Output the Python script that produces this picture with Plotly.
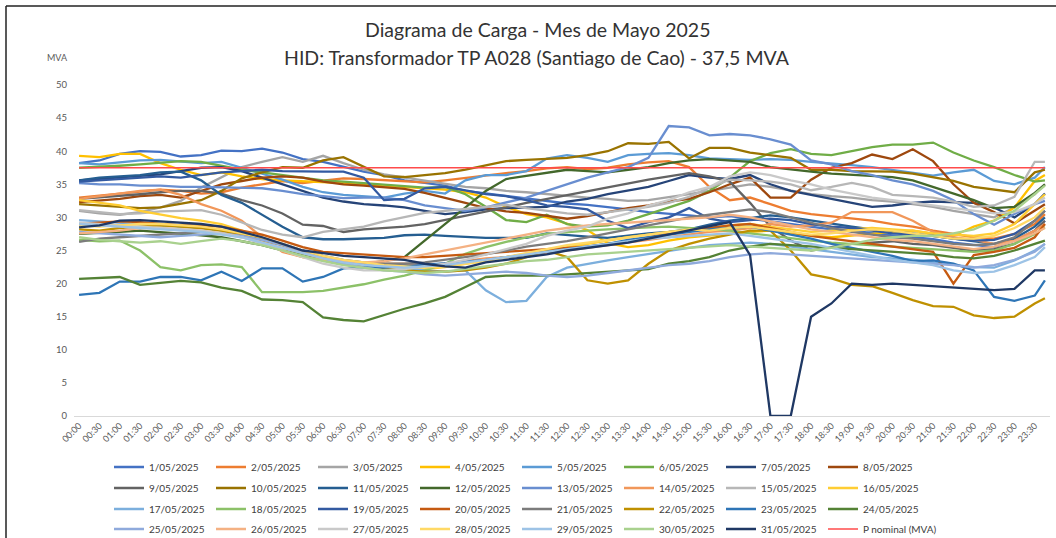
import plotly.graph_objects as go

# ---------------- data ----------------
tick_labels = ["00:00", "00:30", "01:00", "01:30", "02:00", "02:30", "03:00", "03:30",
               "04:00", "04:30", "05:00", "05:30", "06:00", "06:30", "07:00", "07:30",
               "08:00", "08:30", "09:00", "09:30", "10:00", "10:30", "11:00", "11:30",
               "12:00", "12:30", "13:00", "13:30", "14:00", "14:30", "15:00", "15:30",
               "16:00", "16:30", "17:00", "17:30", "18:00", "18:30", "19:00", "19:30",
               "20:00", "20:30", "21:00", "21:30", "22:00", "22:30", "23:00", "23:30"]
sample_times = tick_labels + ["23:45"]

d01 = [38.2, 38.6, 39.6, 40.0, 39.9, 39.2, 39.4, 40.1, 40.0, 40.4, 39.8, 38.8, 38.4, 37.6, 36.9, 36.4, 35.6, 35.2, 34.8, 34.0, 33.6, 33.2, 32.9, 32.4, 32.1, 31.9, 31.6, 31.2, 30.8, 30.6, 30.3, 30.0, 30.2, 29.8, 29.4, 29.0, 28.6, 28.2, 28.0, 27.6, 27.3, 27.0, 26.7, 26.2, 25.8, 25.5, 26.5, 28.0, 29.5]
d02 = [33.0, 33.3, 33.6, 34.0, 34.2, 34.0, 33.6, 33.8, 34.5, 35.0, 35.5, 35.2, 35.6, 35.9, 35.8, 35.6, 35.4, 35.3, 35.6, 36.0, 36.3, 36.7, 37.0, 37.4, 37.6, 37.3, 37.5, 38.0, 38.3, 38.5, 37.6, 34.6, 32.6, 33.0, 32.0, 31.0, 30.5, 30.2, 29.8, 29.5, 29.0, 28.6, 28.0, 27.5, 27.0, 26.8, 27.5, 29.0, 30.5]
d03 = [31.0, 30.6, 30.4, 30.8, 31.5, 32.5, 34.5, 36.0, 37.6, 38.4, 39.1, 38.4, 39.3, 38.2, 37.2, 36.5, 36.0, 35.5, 35.0, 34.6, 34.4, 34.0, 33.8, 33.5, 33.2, 33.0, 32.8, 32.5, 32.6, 33.0, 33.5, 34.0, 34.5, 35.0, 34.6, 34.0, 33.5, 33.2, 33.0, 32.6, 32.4, 32.0, 31.6, 31.0, 30.5, 30.0, 31.5, 33.5, 35.0]
d04 = [39.3, 39.1, 39.6, 39.6, 38.2, 37.2, 36.4, 36.8, 36.2, 35.8, 35.6, 35.5, 35.4, 35.2, 35.0, 34.8, 34.6, 34.4, 34.2, 33.8, 33.0, 31.6, 30.5, 30.0, 29.0, 28.1, 26.1, 25.5, 25.8, 26.5, 27.0, 27.3, 27.6, 27.8, 28.0, 27.6, 27.2, 27.0, 27.2, 27.5, 27.8, 28.0, 27.5, 27.2, 28.6, 29.5, 31.5, 35.5, 36.4]
d05 = [38.2, 38.0, 38.3, 38.6, 38.7, 38.4, 38.2, 38.4, 37.5, 36.5, 35.7, 34.6, 33.8, 33.4, 33.2, 33.0, 33.6, 34.0, 33.6, 35.6, 36.4, 36.4, 37.0, 38.9, 39.4, 39.0, 38.4, 39.4, 39.6, 39.7, 39.4, 38.9, 38.8, 38.7, 38.8, 38.7, 38.4, 38.2, 37.9, 37.6, 37.2, 36.8, 36.3, 36.8, 37.2, 35.5, 35.0, 36.0, 37.6]
d06 = [37.5, 37.6, 37.8, 38.0, 38.3, 38.5, 38.4, 37.8, 37.2, 36.8, 36.4, 36.0, 35.6, 35.4, 35.2, 35.0, 34.8, 34.5, 34.6, 33.5, 31.6, 29.6, 29.3, 30.4, 29.0, 28.6, 28.8, 29.5, 30.5, 31.5, 32.5, 34.0, 36.0, 38.5, 39.7, 40.3, 39.6, 39.4, 40.0, 40.6, 41.0, 41.0, 41.3, 39.8, 38.6, 37.6, 36.4, 35.4, 35.6]
d07 = [35.6, 35.8, 36.0, 36.2, 36.5, 37.0, 37.5, 37.6, 37.0, 36.0, 35.0, 34.0, 33.0, 32.4, 32.0, 31.8, 31.5, 31.0, 30.5, 30.8, 31.2, 31.4, 31.5, 31.6, 32.4, 32.8, 33.5, 34.0, 34.6, 35.5, 36.4, 36.0, 35.8, 36.4, 35.0, 34.0, 33.4, 32.8, 32.2, 31.6, 31.8, 32.2, 32.4, 32.3, 32.2, 31.5, 30.0, 32.0, 33.6]
d08 = [32.3, 32.5, 32.8, 33.2, 33.4, 33.0, 34.0, 35.0, 35.5, 36.0, 36.2, 36.0, 35.4, 35.0, 34.8, 34.5, 34.3, 33.7, 33.0, 32.2, 31.4, 30.9, 30.7, 30.2, 29.8, 30.2, 30.8, 31.4, 31.8, 32.4, 32.8, 33.8, 35.0, 36.0, 33.0, 33.0, 35.7, 37.5, 38.2, 39.5, 38.8, 40.3, 38.5, 35.0, 32.2, 30.8, 29.1, 31.0, 32.0]
d09 = [32.8, 33.0, 33.2, 33.5, 33.8, 34.0, 34.0, 33.6, 32.6, 31.8, 30.6, 28.9, 28.7, 27.8, 28.2, 28.4, 28.6, 29.0, 29.6, 30.2, 30.8, 31.5, 32.2, 32.8, 33.4, 34.0, 34.6, 35.2, 35.7, 36.2, 36.7, 36.2, 35.4, 32.2, 28.6, 26.5, 25.0, 25.5, 26.0, 26.2, 26.4, 26.0, 25.8, 25.4, 25.0, 25.2, 26.0, 28.0, 29.5]
d10 = [32.0, 31.8, 31.5, 31.4, 31.5, 32.0, 32.6, 34.0, 35.9, 36.8, 37.6, 37.5, 38.6, 39.1, 37.6, 36.2, 36.1, 36.4, 36.7, 37.2, 37.9, 38.5, 38.7, 38.9, 39.0, 39.4, 40.0, 41.2, 41.1, 41.4, 38.9, 40.5, 40.5, 39.8, 39.4, 39.0, 37.2, 37.2, 37.0, 37.0, 36.9, 36.6, 36.0, 35.5, 34.6, 34.2, 33.8, 36.8, 37.2]
d11 = [35.6, 36.0, 36.2, 36.4, 36.8, 36.9, 35.6, 33.4, 32.2, 30.4, 28.6, 27.0, 26.7, 26.7, 26.8, 26.9, 27.3, 27.4, 27.2, 27.0, 26.9, 26.9, 26.9, 27.6, 27.3, 27.1, 26.9, 27.3, 27.6, 27.8, 28.2, 28.9, 29.5, 29.9, 30.3, 30.0, 29.5, 29.0, 28.6, 28.2, 28.0, 27.6, 27.2, 26.8, 26.4, 26.0, 26.8, 28.6, 30.0]
d12 = [27.5, 27.6, 27.8, 28.0, 27.8, 27.6, 27.3, 27.0, 26.4, 25.8, 25.0, 24.4, 23.6, 23.2, 23.0, 23.4, 24.0, 26.5, 29.0, 31.5, 34.0, 35.8, 36.3, 36.8, 37.2, 37.0, 36.8, 37.2, 37.6, 38.2, 38.6, 38.8, 38.6, 38.4, 37.6, 37.2, 36.9, 36.6, 36.4, 36.2, 36.1, 35.6, 34.6, 33.6, 32.6, 31.4, 31.6, 33.7, 35.0]
d13 = [35.2, 35.0, 35.0, 34.8, 34.8, 34.6, 34.6, 34.5, 34.4, 34.4, 34.0, 33.5, 33.2, 32.9, 33.0, 33.0, 32.6, 31.8, 31.4, 31.0, 31.5, 32.2, 33.0, 34.0, 35.0, 36.0, 36.8, 37.6, 39.0, 43.8, 43.6, 42.4, 42.6, 42.4, 41.8, 41.0, 38.6, 38.0, 37.0, 36.4, 35.6, 35.0, 34.0, 32.6, 30.5, 28.9, 30.5, 32.0, 32.5]
d14 = [32.8, 33.2, 33.6, 34.0, 34.2, 33.4, 32.0, 31.0, 29.5, 27.0, 24.8, 24.0, 23.6, 23.4, 23.2, 23.0, 23.0, 22.8, 23.0, 23.4, 23.8, 24.0, 24.4, 24.6, 25.0, 25.4, 25.8, 26.2, 26.6, 27.0, 27.4, 27.8, 28.0, 28.4, 29.0, 28.6, 28.8, 29.2, 30.8, 30.8, 30.8, 29.5, 27.8, 27.0, 26.6, 26.0, 26.5, 28.0, 29.0]
d15 = [31.1, 30.8, 30.5, 30.6, 30.9, 31.0, 31.1, 30.4, 29.2, 28.1, 27.4, 27.0, 27.8, 28.2, 28.6, 29.4, 30.0, 30.7, 31.0, 31.3, 31.6, 31.9, 31.4, 31.0, 30.6, 30.4, 30.8, 31.2, 31.6, 32.2, 33.1, 34.5, 35.7, 35.6, 35.4, 35.0, 34.1, 34.6, 35.2, 34.6, 33.4, 33.2, 33.0, 32.4, 31.6, 31.8, 33.1, 38.4, 38.4]
d16 = [32.6, 32.2, 31.8, 31.0, 30.4, 29.9, 29.5, 29.0, 28.0, 26.5, 25.0, 24.0, 23.5, 23.0, 22.5, 22.2, 22.0, 22.2, 22.5, 23.0, 23.5, 24.0, 24.6, 25.0, 25.5, 26.0, 26.5, 27.0, 27.4, 27.8, 28.0, 28.4, 28.8, 29.0, 28.6, 28.2, 27.8, 28.0, 28.2, 28.4, 28.2, 28.0, 27.6, 27.4, 27.2, 27.6, 29.0, 32.0, 33.5]
d17 = [29.6, 29.4, 29.2, 29.0, 28.8, 28.6, 28.4, 28.0, 27.5, 26.8, 26.0, 25.0, 24.0, 23.4, 23.0, 22.6, 22.4, 22.0, 21.8, 22.0, 19.0, 17.2, 17.4, 21.0, 22.4, 23.0, 23.5, 24.0, 24.5, 25.0, 25.4, 25.8, 26.0, 26.2, 26.0, 25.6, 25.2, 24.8, 24.4, 24.0, 23.8, 23.6, 23.2, 22.8, 22.5, 22.4, 23.5, 25.0, 26.0]
d18 = [26.6, 26.4, 26.5, 25.0, 22.5, 22.0, 22.8, 22.9, 22.5, 18.7, 18.7, 18.7, 18.9, 19.4, 19.9, 20.6, 21.2, 22.0, 23.0, 24.5, 25.5, 26.3, 27.0, 27.5, 27.8, 28.0, 28.2, 28.4, 28.5, 28.6, 28.4, 28.2, 28.0, 27.6, 27.2, 26.8, 26.5, 26.2, 26.0, 25.8, 25.6, 25.4, 25.2, 25.0, 24.8, 25.0, 26.0, 27.5, 28.5]
d19 = [35.4, 35.6, 35.8, 36.0, 36.2, 36.0, 36.4, 36.8, 37.0, 37.2, 37.0, 36.9, 36.9, 36.9, 36.0, 32.6, 32.8, 34.4, 34.6, 34.1, 33.5, 33.2, 32.6, 31.8, 31.6, 31.2, 29.5, 28.4, 29.3, 30.0, 31.4, 29.8, 29.3, 29.6, 29.8, 29.6, 29.0, 28.6, 28.4, 28.0, 27.6, 27.4, 27.2, 26.8, 26.5, 26.6, 27.5, 29.5, 31.0]
d20 = [29.0, 29.2, 29.4, 29.3, 29.0, 28.8, 28.8, 28.6, 28.0, 27.4, 26.5, 25.5, 24.8, 24.6, 24.4, 24.2, 24.0, 24.0, 24.2, 24.4, 24.6, 24.8, 25.0, 25.2, 25.4, 25.6, 26.0, 26.4, 27.0, 27.6, 28.0, 28.4, 28.8, 29.0, 28.4, 27.8, 27.2, 26.8, 26.4, 26.0, 25.6, 25.2, 24.8, 20.0, 24.3, 24.8, 25.4, 27.0, 29.0]
d21 = [26.3, 26.8, 27.0, 27.2, 27.4, 27.6, 27.8, 27.6, 27.2, 26.6, 25.8, 25.0, 24.2, 23.6, 23.2, 23.0, 23.0, 23.2, 23.6, 24.0, 24.4, 25.0, 25.6, 26.0, 26.4, 27.0, 27.6, 28.2, 28.8, 29.4, 30.0, 30.4, 30.8, 31.2, 30.8, 30.0, 29.2, 28.4, 27.8, 27.4, 27.0, 26.8, 26.4, 26.0, 25.8, 26.0, 27.0, 29.5, 31.0]
d22 = [28.2, 28.0, 28.4, 28.6, 28.8, 28.6, 28.4, 28.0, 27.4, 26.6, 25.8, 24.8, 24.0, 23.2, 22.6, 22.2, 22.0, 21.8, 21.8, 22.0, 22.4, 23.0, 24.0, 25.0, 24.0, 20.5, 20.0, 20.5, 23.0, 25.0, 26.0, 26.8, 27.4, 28.0, 28.0, 25.0, 21.4, 20.8, 19.8, 19.6, 18.6, 17.5, 16.6, 16.5, 15.2, 14.8, 15.0, 17.0, 17.8]
d23 = [18.3, 18.6, 20.3, 20.3, 21.0, 21.0, 20.5, 21.8, 20.4, 22.3, 22.3, 20.3, 21.0, 22.3, 22.5, 22.4, 22.6, 22.8, 23.0, 23.3, 23.6, 24.0, 24.4, 24.8, 25.2, 25.6, 26.0, 26.6, 27.0, 27.4, 27.8, 28.2, 28.4, 28.6, 28.0, 27.4, 26.8, 26.0, 25.4, 24.8, 24.2, 23.4, 23.5, 23.0, 22.0, 18.0, 17.4, 18.2, 20.5]
d24 = [20.7, 20.9, 21.0, 19.8, 20.1, 20.4, 20.2, 19.4, 18.9, 17.6, 17.5, 17.2, 14.9, 14.5, 14.3, 15.3, 16.2, 17.0, 18.0, 19.5, 21.0, 21.2, 21.2, 21.2, 21.4, 21.6, 21.8, 22.0, 22.2, 23.0, 23.4, 24.0, 25.0, 25.6, 26.0, 25.8, 25.6, 25.4, 25.2, 25.0, 24.8, 24.6, 24.4, 24.0, 23.8, 24.2, 25.0, 26.0, 26.5]
d25 = [27.8, 27.6, 27.4, 27.2, 27.0, 27.2, 27.4, 27.6, 27.2, 26.6, 25.8, 24.8, 23.8, 23.0, 22.4, 22.0, 21.8, 21.4, 21.2, 21.4, 21.6, 21.8, 21.6, 21.2, 21.0, 21.2, 21.6, 22.0, 22.4, 22.8, 23.0, 23.4, 24.0, 24.4, 24.6, 24.4, 24.2, 24.0, 23.8, 23.6, 23.4, 23.2, 23.0, 22.8, 22.4, 22.8, 23.6, 24.8, 26.0]
d26 = [27.6, 27.8, 28.0, 28.4, 28.4, 28.2, 28.0, 27.6, 27.0, 26.2, 25.4, 24.6, 23.8, 23.4, 23.2, 23.4, 23.8, 24.4, 25.0, 25.6, 26.2, 26.8, 27.4, 28.0, 28.4, 28.8, 29.0, 29.2, 29.4, 29.6, 29.8, 30.0, 30.4, 30.0, 29.4, 28.8, 28.2, 27.8, 27.4, 27.0, 26.6, 26.4, 26.0, 25.6, 25.2, 25.6, 26.4, 27.6, 28.4]
d27 = [29.2, 29.0, 28.8, 28.6, 28.4, 28.2, 28.0, 27.6, 27.0, 26.0, 25.0, 24.0, 23.0, 22.4, 22.0, 22.0, 22.2, 22.6, 23.0, 23.6, 24.4, 25.2, 26.0, 27.2, 28.0, 28.6, 29.8, 30.6, 31.8, 32.6, 33.8, 34.6, 36.2, 36.8, 36.4, 35.6, 35.0, 34.2, 33.6, 33.0, 32.6, 32.2, 31.8, 31.4, 31.0, 30.6, 30.8, 32.0, 33.0]
d28 = [28.8, 28.6, 28.8, 29.0, 29.0, 28.8, 28.6, 28.2, 27.6, 27.0, 26.0, 25.0, 24.2, 23.6, 23.2, 22.8, 22.6, 22.4, 22.6, 23.0, 23.4, 24.0, 24.6, 25.2, 25.8, 26.2, 26.6, 27.0, 27.4, 27.8, 28.2, 28.0, 28.4, 28.6, 28.2, 27.8, 27.4, 27.6, 28.0, 28.2, 28.0, 27.6, 27.2, 26.8, 26.8, 27.2, 28.4, 30.0, 31.5]
d29 = [29.0, 28.8, 28.6, 28.4, 28.2, 28.0, 27.8, 27.4, 27.0, 26.2, 25.4, 24.6, 23.8, 23.2, 22.8, 22.6, 22.4, 22.6, 22.8, 23.2, 23.6, 24.0, 24.4, 24.8, 25.2, 25.6, 26.0, 26.4, 26.8, 27.0, 27.2, 27.4, 27.6, 27.2, 26.8, 26.4, 26.0, 25.4, 24.8, 24.2, 23.6, 23.2, 22.8, 22.0, 21.6, 21.8, 22.8, 24.0, 25.5]
d30 = [27.0, 26.6, 26.4, 26.2, 26.4, 26.0, 26.4, 26.8, 26.4, 25.8, 25.0, 24.2, 23.4, 22.8, 22.4, 22.0, 21.8, 21.6, 21.8, 22.2, 22.6, 23.0, 23.4, 23.6, 24.0, 24.4, 24.6, 24.8, 25.0, 25.2, 25.4, 25.6, 25.8, 25.6, 25.4, 25.2, 25.0, 25.4, 26.0, 26.6, 27.0, 27.2, 27.2, 27.6, 28.2, 29.5, 31.0, 33.5, 34.8]
d31 = [28.5, 28.8, 29.5, 29.6, 29.4, 29.2, 29.0, 28.6, 27.8, 27.0, 26.0, 25.0, 24.6, 24.2, 24.0, 23.8, 23.6, 23.0, 22.6, 22.4, 23.2, 23.6, 24.0, 24.4, 25.0, 25.4, 25.8, 26.2, 26.8, 27.4, 28.0, 28.6, 29.3, 24.3, 0.0, 0.0, 15.0, 17.0, 20.0, 19.8, 20.0, 19.8, 19.6, 19.4, 19.2, 19.0, 19.2, 22.0, 22.0]

p_nominal = 37.5

series = [d01, d02, d03, d04, d05, d06, d07, d08, d09, d10, d11, d12, d13, d14, d15, d16,
          d17, d18, d19, d20, d21, d22, d23, d24, d25, d26, d27, d28, d29, d30, d31]
names = [f"{d}/05/2025" for d in range(1, 32)]
colors = ["#4472C4", "#ED7D31", "#A5A5A5", "#FFC000", "#5B9BD5", "#70AD47", "#264478", "#9E480E",
          "#636363", "#997300", "#255E91", "#43682B", "#698ED0", "#F1975A", "#B7B7B7", "#FFCD33",
          "#7CAFDD", "#8CC168", "#335AA1", "#C55A11", "#7C7C7C", "#BF9000", "#2E75B6", "#548235",
          "#8FAADC", "#F4B183", "#C9C9C9", "#FFD966", "#9DC3E6", "#A9D18E", "#1F3864"]

# ---------------- figure ----------------
W, H = 1056, 538
ML, MR, MT, MB = 74, 6, 85, 122
PW, PH = W - ML - MR, H - MT - MB


def px_x(p):
    return (p - ML) / PW


def px_y(p):
    return (H - MB - p) / PH


def to_hours(t):
    h, m = t.split(":")
    return int(h) + int(m) / 60.0


x = [to_hours(t) for t in sample_times]
legend_keys = ["legend", "legend2", "legend3", "legend4"]

FONT = "Lato, 'Open Sans', sans-serif"
fig = go.Figure()
for i, (vals, nm, col) in enumerate(zip(series, names, colors)):
    fig.add_trace(go.Scatter(x=x, y=vals, mode="lines", name=nm,
                             line=dict(color=col, width=2.3),
                             legend=legend_keys[i // 8]))
fig.add_trace(go.Scatter(x=x, y=[p_nominal] * len(x), mode="lines", name="P nominal (MVA)",
                         line=dict(color="#FF4B4B", width=1.4), legend="legend4",
                         legendwidth=90))

row_y = [467, 488, 509, 529]
leg_common = dict(orientation="h", xanchor="left", yanchor="middle",
                  xref="container", yref="container",
                  entrywidth=57, entrywidthmode="pixels", itemwidth=30,
                  font=dict(family=FONT, size=10, color="#404040"),
                  bgcolor="rgba(0,0,0,0)", borderwidth=0, tracegroupgap=0)
legends = {}
for k, key in enumerate(legend_keys):
    legends[key] = dict(leg_common, x=109 / W, y=1 - row_y[k] / H)

fig.update_layout(
    width=W, height=H, autosize=False,
    margin=dict(l=ML, r=MR, t=MT, b=MB, pad=0, autoexpand=False),
    paper_bgcolor="white", plot_bgcolor="white",
    font=dict(family=FONT, color="#595959"),
    showlegend=True,
    xaxis=dict(range=[-0.125, 23.875], tickmode="array",
               tickvals=[to_hours(t) for t in tick_labels], ticktext=tick_labels,
               tickangle=-45, tickfont=dict(size=9, color="#595959", family=FONT),
               showgrid=False, zeroline=False, showline=True, linecolor="#D9D9D9",
               linewidth=1, ticks=""),
    yaxis=dict(range=[0, 50], dtick=5, tick0=0, showgrid=False, zeroline=False,
               showline=False, ticks="", tickfont=dict(size=9.5, color="#595959", family=FONT),
               ticklabelstandoff=6),
    annotations=[
        dict(text="Diagrama de Carga - Mes de Mayo 2025", xref="paper", yref="paper",
             x=px_x(537), y=px_y(30), xanchor="center", yanchor="middle", showarrow=False,
             font=dict(family=FONT, size=19.5, color="#333333")),
        dict(text="HID: Transformador TP A028 (Santiago de Cao) - 37,5 MVA", xref="paper",
             yref="paper", x=px_x(537), y=px_y(57), xanchor="center", yanchor="middle",
             showarrow=False, font=dict(family=FONT, size=19.5, color="#333333")),
        dict(text="MVA", xref="paper", yref="paper", x=px_x(57), y=px_y(57),
             xanchor="center", yanchor="middle", showarrow=False,
             font=dict(family=FONT, size=9, color="#595959")),
    ],
    shapes=[
        dict(type="line", xref="paper", yref="paper", x0=px_x(6), x1=px_x(6),
             y0=px_y(538), y1=px_y(6), line=dict(color="#222222", width=1.5)),
        dict(type="line", xref="paper", yref="paper", x0=px_x(6), x1=px_x(1056),
             y0=px_y(6), y1=px_y(6), line=dict(color="#222222", width=1.5)),
    ],
    **legends,
)

fig.write_html("out.html", config={"displayModeBar": False},
               post_script="document.body.style.margin='0';")
